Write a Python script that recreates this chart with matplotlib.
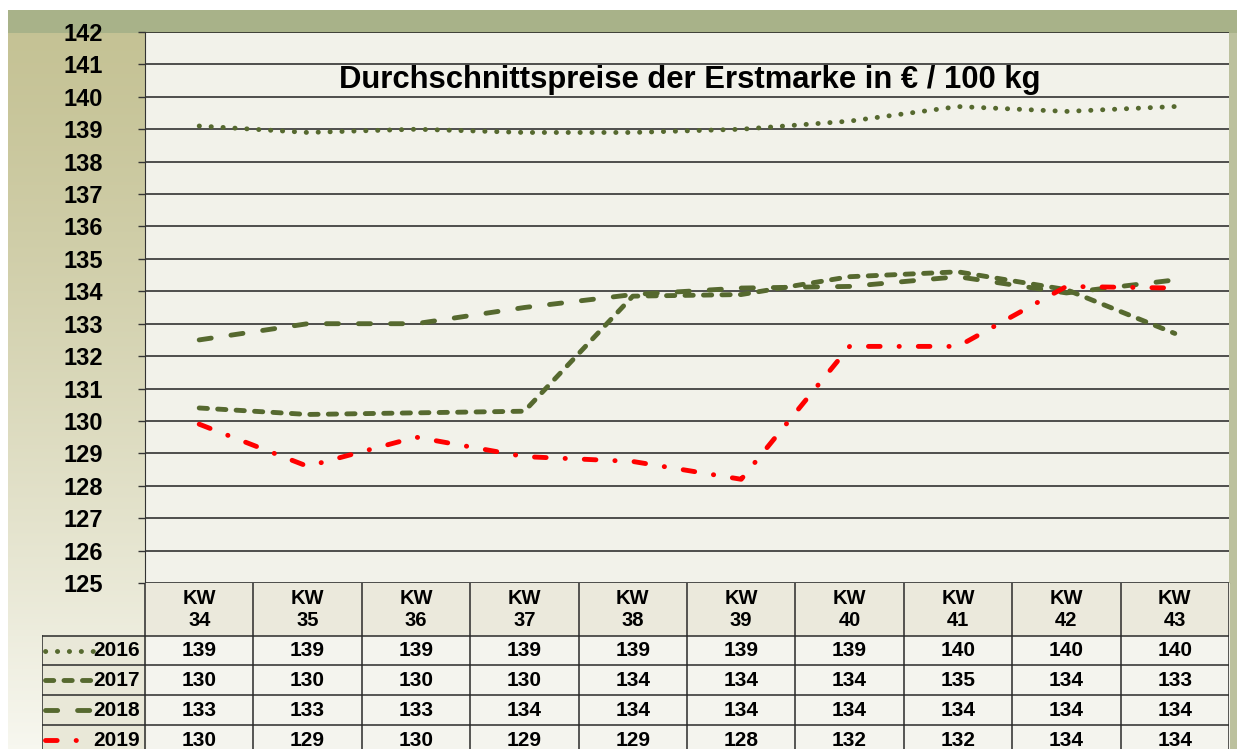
import matplotlib

matplotlib.use("Agg")

import matplotlib.pyplot as plt
import numpy as np

plt.rcParams["font.family"] = ["Liberation Sans", "DejaVu Sans"]
plt.rcParams["font.weight"] = "bold"

TITLE = "Durchschnittspreise der Erstmarke in € / 100 kg"
WEEKS = ["KW\n34", "KW\n35", "KW\n36", "KW\n37", "KW\n38", "KW\n39", "KW\n40", "KW\n41", "KW\n42", "KW\n43"]
YEARS = ["2016", "2017", "2018", "2019"]

# curve values
price_2016 = [139.1, 138.9, 139.0, 138.9, 138.9, 139.0, 139.25, 139.7, 139.55, 139.7]
price_2017 = [130.4, 130.2, 130.25, 130.3, 133.85, 133.9, 134.45, 134.6, 134.05, 132.7]
price_2018 = [132.5, 133.0, 133.0, 133.5, 133.9, 134.1, 134.15, 134.45, 133.95, 134.35]
price_2019 = [129.9, 128.6, 129.5, 128.9, 128.75, 128.2, 132.3, 132.3, 134.15, 134.1]

# rounded values shown in the data table
table_2016 = [139, 139, 139, 139, 139, 139, 139, 140, 140, 140]
table_2017 = [130, 130, 130, 130, 134, 134, 134, 135, 134, 133]
table_2018 = [133, 133, 133, 134, 134, 134, 134, 134, 134, 134]
table_2019 = [130, 129, 130, 129, 129, 128, 132, 132, 134, 134]

OLIVE = "#56692f"
RED = "#ff0000"
LW = 3.5
STYLES = [
    dict(color=OLIVE, linestyle=(0, (0.05, 2.4))),
    dict(color=OLIVE, linestyle=(0, (1.7, 2.1))),
    dict(color=OLIVE, linestyle=(0, (2.5, 4.1))),
    dict(color=RED, linestyle=(0, (2.4, 3.9, 0.05, 3.9))),
]

W, H = 1237, 749
fig = plt.figure(figsize=(W / 100, H / 100), dpi=100)
fig.patch.set_facecolor("white")

# decorative background
bg = np.ones((H, W, 3))
bg[10:, 8:] = [0.86, 0.86, 0.76]
rows = np.linspace(0, 1, H - 10)[:, None, None]
left_top = np.array([0.77, 0.76, 0.58])
left_bot = np.array([0.97, 0.97, 0.94])
bg[10:, 8:145] = left_top + (left_bot - left_top) * rows**1.3
bg[10:33, 8:] = [0.66, 0.70, 0.54]
bg[33:, 1229:] = [0.74, 0.76, 0.62]
bg[33:583, 145:1229] = [0.95, 0.95, 0.92]
bg_ax = fig.add_axes([0, 0, 1, 1], zorder=-5)
bg_ax.imshow(bg, extent=(0, W, H, 0), aspect="auto", interpolation="bilinear")
bg_ax.set_xlim(0, W)
bg_ax.set_ylim(H, 0)
bg_ax.axis("off")

# main plot
ax = fig.add_axes([145 / W, 1 - 583 / H, (1229 - 145) / W, (583 - 32) / H])
ax.patch.set_alpha(0)
x = np.arange(len(WEEKS))
for values, style in zip([price_2016, price_2017, price_2018, price_2019], STYLES):
    ax.plot(x, values, linewidth=LW, dash_capstyle="round", solid_capstyle="round", zorder=3, **style)

ax.set_xlim(-0.5, len(WEEKS) - 0.5)
ax.set_ylim(125, 142)
ax.set_yticks(range(125, 143))
ax.set_xticks([])
ax.grid(True, axis="y", color="#222222", linewidth=1.1)
ax.set_axisbelow(True)
for side in ("top", "right"):
    ax.spines[side].set_visible(False)
ax.spines["left"].set_color("#333333")
ax.spines["bottom"].set_color("#333333")
ax.tick_params(axis="y", length=5, width=1, pad=25, labelsize=17, color="#333333")
for label in ax.get_yticklabels():
    label.set_fontweight("bold")

fig.text(690 / W, 1 - 80 / H, TITLE, ha="center", va="center", fontsize=22.3, fontweight="bold")

# data table under the plot
tab = fig.add_axes([42 / W, 0, (1229 - 42) / W, (H - 583) / H])
left = -0.5 - 103 / 108.4
tab.set_xlim(left, len(WEEKS) - 0.5)
tab.set_ylim(H, 583)
tab.axis("off")
row_edges = [636, 665, 695, 725, 755]

tab.fill_between([-0.5, len(WEEKS) - 0.5], 583, 636, color="#ebe9dc", zorder=0)
tab.fill_between([-0.5, len(WEEKS) - 0.5], 636, H, color="#f4f4ee", zorder=0)
tab.fill_between([left, -0.5], 636, H, color="#e9e8d8", zorder=0)

line_kw = dict(color="#2a2a2a", linewidth=1.1, zorder=2)
for k in range(len(WEEKS) + 1):
    tab.plot([k - 0.5, k - 0.5], [583, H], **line_kw)
tab.plot([left, left], [636, H], **line_kw)
for edge in row_edges[:-1]:
    tab.plot([left, len(WEEKS) - 0.5], [edge, edge], **line_kw)

for i, week in enumerate(WEEKS):
    tab.text(i, 609, week, ha="center", va="center", fontsize=14.5, fontweight="bold", linespacing=1.2)

table_rows = [table_2016, table_2017, table_2018, table_2019]
for r, (year, values, style) in enumerate(zip(YEARS, table_rows, STYLES)):
    yc = (row_edges[r] + row_edges[r + 1]) / 2
    for i, v in enumerate(values):
        tab.text(i, yc, str(v), ha="center", va="center", fontsize=15, fontweight="bold")
    tab.plot([left + 0.03, left + 0.47], [yc, yc], linewidth=LW, dash_capstyle="round", zorder=3, **style)
    tab.text(left + 0.905, yc, year, ha="right", va="center", fontsize=15, fontweight="bold")

fig.savefig("out.png", dpi=100)
